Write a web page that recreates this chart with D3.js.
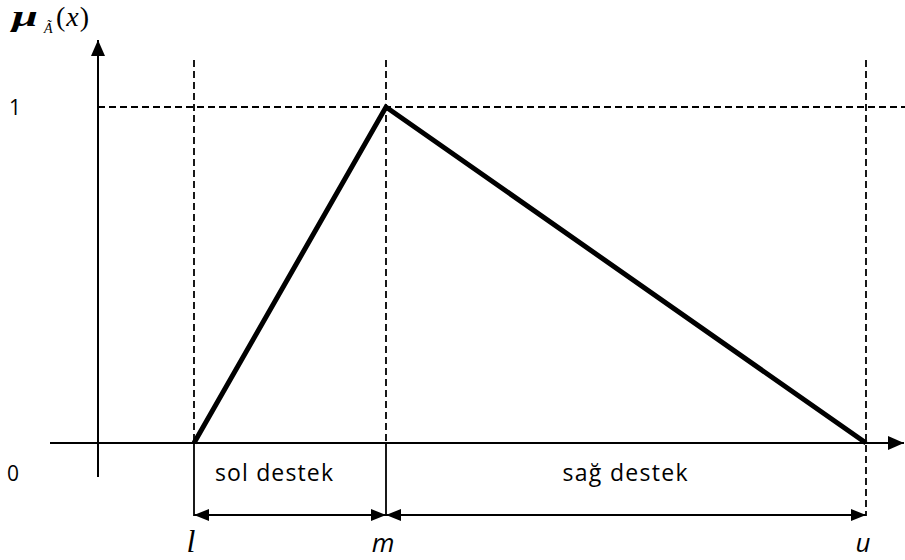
<!DOCTYPE html>
<html><head><meta charset="utf-8">
<script src="https://cdn.jsdelivr.net/npm/d3@7"></script>
<style>body{margin:0;background:#fff}</style>
</head><body>
<svg id="c" width="905" height="560"></svg>
<script>
// Data
const pointNames = ["l", "m", "u"];
const pointValues = [1, 3, 8];
const membership = [0, 1, 0];
const supportLabels = ["sol destek", "sağ destek"];
const yTickLabels = ["0", "1"];
const yTickValues = [0, 1];

const svg = d3.select("#c");
const x = d3.scaleLinear().domain([0, 8]).range([98, 866]);
const y = d3.scaleLinear().domain([0, 1]).range([443, 107]);

const defs = svg.append("defs");
function marker(id, w, h) {
  defs.append("marker").attr("id", id).attr("viewBox", `0 0 ${w} ${h}`)
    .attr("refX", w).attr("refY", h / 2).attr("markerWidth", w).attr("markerHeight", h)
    .attr("markerUnits", "userSpaceOnUse").attr("orient", "auto-start-reverse")
    .append("path").attr("d", `M0,0L${w},${h/2}L0,${h}Z`).attr("fill", "#000");
}
marker("ax", 16, 14);
marker("dim", 15, 12);

const dash = "7,4";
const dashW = 1.8;
// horizontal dashed at y=1
svg.append("line").attr("x1", x(0)).attr("x2", 905).attr("y1", y(1)).attr("y2", y(1))
  .attr("stroke", "#000").attr("stroke-width", dashW).attr("stroke-dasharray", dash);

// vertical dashed lines
pointValues.forEach((v, i) => {
  svg.append("line").attr("x1", x(v)).attr("x2", x(v)).attr("y1", 60)
    .attr("y2", i === 2 ? 516 : y(0))
    .attr("stroke", "#000").attr("stroke-width", dashW).attr("stroke-dasharray", dash);
  if (i < 2) {
    svg.append("line").attr("x1", x(v)).attr("x2", x(v)).attr("y1", y(0)).attr("y2", 516)
      .attr("stroke", "#000").attr("stroke-width", 1.8);
  }
});

// axes
svg.append("line").attr("x1", 50).attr("x2", 904).attr("y1", y(0)).attr("y2", y(0))
  .attr("stroke", "#000").attr("stroke-width", 2).attr("marker-end", "url(#ax)");
svg.append("line").attr("x1", x(0)).attr("x2", x(0)).attr("y1", 477).attr("y2", 40)
  .attr("stroke", "#000").attr("stroke-width", 2).attr("marker-end", "url(#ax)");

// triangle membership
const line = d3.line().x((d, i) => x(pointValues[i])).y(d => y(d));
svg.append("path").datum(membership).attr("d", line).attr("fill", "none")
  .attr("stroke", "#000").attr("stroke-width", 5).attr("stroke-linejoin", "miter");

// dimension arrows
const dimY = 515;
for (let i = 0; i < 2; i++) {
  svg.append("line").attr("x1", x(pointValues[i])).attr("x2", x(pointValues[i + 1]))
    .attr("y1", dimY).attr("y2", dimY).attr("stroke", "#000").attr("stroke-width", 2)
    .attr("marker-start", "url(#dim)").attr("marker-end", "url(#dim)");
}

// support labels
const sansFont = "'Open Sans', 'Noto Sans', sans-serif";
const serifFont = "'Liberation Serif', 'DejaVu Serif', serif";
supportLabels.forEach((t, i) => {
  const cx = i === 0 ? 274 : 625;
  svg.append("text").attr("x", cx).attr("y", 481).attr("text-anchor", "middle")
    .attr("font-family", sansFont).attr("font-size", 23).attr("textLength", i === 0 ? 118 : 125)
    .text(t);
});

// y tick labels
yTickValues.forEach((v, i) => {
  svg.append("text").attr("x", v === 0 ? 7 : 9).attr("y", y(v) + (v === 0 ? 38 : 8))
    .attr("font-family", sansFont).attr("font-size", 21).text(yTickLabels[i]);
});

// point labels
pointNames.forEach((n, i) => {
  svg.append("text").attr("x", x(pointValues[i]) - 3).attr("y", 552).attr("text-anchor", "middle")
    .attr("font-family", i === 0 ? serifFont : sansFont)
    .attr("font-style", "italic").attr("font-size", i === 0 ? 32 : 26).text(n);
});

// mu label
svg.append("text").attr("transform", "translate(12,26) scale(1.55,1)")
  .attr("font-family", serifFont).attr("font-style", "italic").attr("font-size", 30)
  .attr("font-weight", "bold").text("μ");
svg.append("text").attr("x", 44).attr("y", 33)
  .attr("font-family", serifFont).attr("font-style", "italic").attr("font-size", 14).text("Ã");
const px = svg.append("text").attr("x", 56).attr("y", 26)
  .attr("font-family", serifFont).attr("font-size", 28);
px.append("tspan").text("(");
px.append("tspan").attr("font-style", "italic").attr("dx", 1).text("x");
px.append("tspan").attr("dx", 1).text(")");
</script>
</body></html>
